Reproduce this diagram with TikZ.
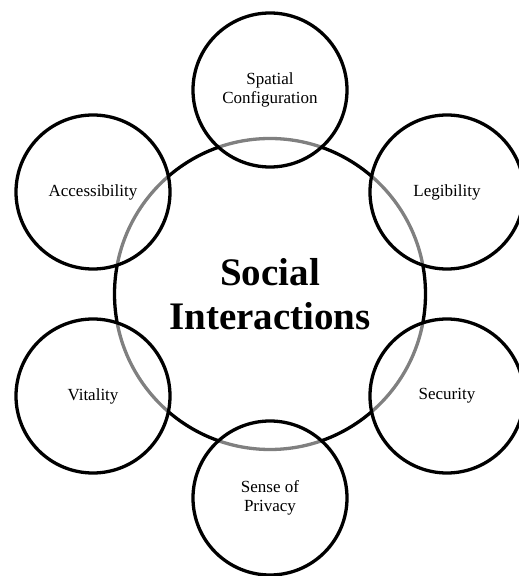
\documentclass[tikz,border=0pt]{standalone}
\usepackage{fontspec}
\setmainfont{Liberation Serif}
\usepackage{tikz}
\tikzset{
	hub/.style={circle,draw=black,line width=3.3pt,inner sep=0pt,minimum size=311pt,align=center,font=\fontsize{39}{44}\selectfont\bfseries},
	factor/.style={circle,draw=black,line width=3.3pt,inner sep=0pt,minimum size=154pt,fill=white,fill opacity=0.5,text opacity=1,align=center,font=\fontsize{17}{19.5}\selectfont}
}

\begin{document}
\begin{tikzpicture}[line cap=round,line join=round,x=1pt,y=1pt]
	\clip(0,0) rectangle (519,576);
	\node[hub] (social) at (270,282) {Social\\Interactions};
	\node[factor] (spatial) at (270,486) {Spatial\\Configuration};
	\node[factor] (legibility) at (447,384) {Legibility};
	\node[factor] (security) at (447,180) {Security};
	\node[factor] (privacy) at (270,78) {Sense of\\Privacy};
	\node[factor] (vitality) at (93,180) {Vitality};
	\node[factor] (access) at (93,384) {Accessibility};
\end{tikzpicture}
\end{document}
